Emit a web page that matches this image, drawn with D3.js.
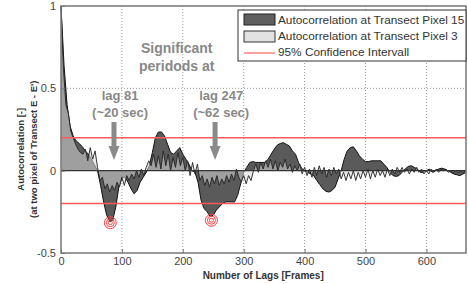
<!DOCTYPE html>
<html>
<head>
<meta charset="utf-8">
<script src="https://cdn.jsdelivr.net/npm/d3@7"></script>
<style>
  body { margin: 0; background: #fff; }
  text { font-family: "Liberation Sans", Arial, sans-serif; }
</style>
</head>
<body>
<svg id="chart" width="468" height="284"></svg>
<script>
// autocorrelation, transect pixel 15 (lags 0..665, step 5)
var pix15Vals = [1.00, 0.64, 0.40, 0.27, 0.21, 0.18, 0.165, 0.145, 0.12, 0.10, 0.07, 0.035, 0.00,
  -0.09, -0.19, -0.27, -0.31, -0.30, -0.22, -0.10, -0.04, -0.04, -0.07, -0.11, -0.14, -0.12, -0.07, -0.04, -0.01,
  0.03, 0.11, 0.20, 0.235, 0.235, 0.21, 0.16, 0.11, 0.10, 0.12, 0.14, 0.10, 0.07, 0.04, 0.00,
  -0.01, -0.07, -0.18, -0.23, -0.25, -0.28, -0.27, -0.24, -0.22, -0.20, -0.19, -0.19, -0.19, -0.19, -0.15, -0.08, -0.01,
  0.02, 0.05, 0.055, 0.05, 0.05, 0.05, 0.05, 0.07, 0.10, 0.13, 0.155, 0.165, 0.17, 0.16, 0.15, 0.12, 0.10, 0.05, 0.015, 0.00,
  -0.01, -0.02, -0.03, -0.06, -0.085, -0.11, -0.125, -0.13, -0.12, -0.10, -0.05, 0.00,
  0.07, 0.12, 0.14, 0.145, 0.12, 0.09, 0.07, 0.055, 0.055, 0.06, 0.06, 0.06, 0.06, 0.04, 0.02,
  -0.01, -0.03, -0.035, -0.03, -0.01, 0.01, 0.025, 0.03, 0.02, 0.01, -0.01, -0.01, 0.00, 0.01, -0.01, 0.00,
  0.01, 0.015, 0.01, 0.0, -0.01, -0.02, -0.025, -0.03, -0.02, -0.01];

// autocorrelation, transect pixel 3 (lags 0..664, step 4)
var pix3Vals = [1.00, 0.62, 0.40, 0.35, 0.24, 0.20, 0.16, 0.13, 0.11, 0.10, 0.13, 0.06, 0.14, 0.07, 0.12, 0.02,
  -0.06, -0.04, -0.11, -0.08, -0.13, -0.09, -0.12, -0.07, -0.10, -0.04, -0.09, -0.03, -0.06, -0.02, -0.05, 0.00,
  -0.04, 0.01, -0.03, 0.02, 0.06, 0.03, 0.10, 0.02, 0.09, 0.01, 0.12, 0.03, 0.10, 0.00, 0.08, 0.02,
  0.11, 0.03, 0.08, 0.00, 0.06, -0.03, 0.05, -0.02, 0.04, -0.06, -0.03, -0.09, -0.05, -0.10, -0.04, -0.08,
  -0.03, -0.09, -0.05, -0.08, -0.03, -0.07, -0.02, -0.06, 0.01, -0.04, -0.07, -0.03, -0.08, -0.03, -0.06, 0.00,
  0.04, -0.01, 0.05, 0.01, 0.06, 0.02, 0.07, 0.01, 0.06, 0.00, 0.05, 0.02, 0.07, 0.01, 0.04, -0.01,
  0.03, 0.00, 0.04, -0.02, 0.02, -0.03, 0.01, -0.04, 0.02, -0.03, 0.03, -0.02, 0.02, -0.04, 0.01, -0.03,
  0.02, -0.02, 0.01, -0.05, -0.01, -0.06, -0.01, -0.05, 0.00, -0.06, -0.01, -0.05, 0.00, -0.04, 0.01, -0.05,
  0.00, -0.04, 0.01, -0.03, 0.00, -0.04, 0.01, -0.03, 0.01, -0.02, 0.02, -0.01, 0.02, -0.01, 0.01, -0.02,
  0.01, -0.01, 0.02, -0.01, 0.01, -0.02, 0.00, -0.02, 0.01, -0.01, 0.01, -0.01, 0.01, 0.00, 0.01, -0.01,
  0.00, -0.01, 0.00, -0.01, 0.00, -0.01, 0.00];

var xTicks = [0, 100, 200, 300, 400, 500, 600];
var yTicks = [-0.5, 0, 0.5, 1];
var confLevels = [0.2, -0.2];
var peakLags = [81, 247];
var peakVals = [-0.31, -0.295];
var peakLabels = [["lag 81", "(~20 sec)"], ["lag 247", "(~62 sec)"]];
var legendLabels = ["Autocorrelation at Transect Pixel 15", "Autocorrelation at Transect Pixel 3", "95% Confidence Intervall"];

var svg = d3.select("#chart");
var pl = 61, pt = 6, pr = 466, pb = 253;

var x = d3.scaleLinear().domain([0, 665]).range([pl, pr]);
var y = d3.scaleLinear().domain([-0.5, 1]).range([pb, pt]);

var pix15 = pix15Vals.map(function (v, i) { return [i * 5, v]; });
var pix3 = pix3Vals.map(function (v, i) { return [i * 4, v]; });

// grid
svg.append("g").selectAll("line").data(xTicks.slice(1)).enter().append("line")
  .attr("x1", d => x(d)).attr("x2", d => x(d)).attr("y1", pt).attr("y2", pb)
  .attr("stroke", "#999").attr("stroke-dasharray", "1,2");
svg.append("g").selectAll("line").data([0.5]).enter().append("line")
  .attr("x1", pl).attr("x2", pr).attr("y1", d => y(d)).attr("y2", d => y(d))
  .attr("stroke", "#999").attr("stroke-dasharray", "1,2");

var area = d3.area().x(d => x(d[0])).y0(y(0)).y1(d => y(d[1]));
var line = d3.line().x(d => x(d[0])).y(d => y(d[1]));

var plot = svg.append("g");
plot.append("path").datum(pix15).attr("d", area).attr("fill", "#5a5a5a");
plot.append("path").datum(pix15).attr("d", line).attr("fill", "none").attr("stroke", "#111").attr("stroke-width", 1);
plot.append("path").datum(pix3).attr("d", area).attr("fill", "#d8d8d8").attr("fill-opacity", 0.55);
plot.append("path").datum(pix3).attr("d", line).attr("fill", "none").attr("stroke", "#222").attr("stroke-width", 0.9);

// zero line
svg.append("line").attr("x1", pl).attr("x2", pr).attr("y1", y(0)).attr("y2", y(0))
  .attr("stroke", "#333").attr("stroke-width", 1.2);

// confidence interval
svg.append("g").selectAll("line").data(confLevels).enter().append("line")
  .attr("x1", pl).attr("x2", pr).attr("y1", d => y(d)).attr("y2", d => y(d))
  .attr("stroke", "#ff5a5a").attr("stroke-width", 1.5);

// circles at significant lags
peakLags.forEach(function (l, i) {
  [6, 4, 2].forEach(function (r) {
    svg.append("circle").attr("cx", x(l)).attr("cy", y(peakVals[i]) + 1).attr("r", r)
      .attr("fill", "none").attr("stroke", "#ff4040").attr("stroke-width", 1);
  });
});

// frame + axes
svg.append("rect").attr("x", pl).attr("y", pt).attr("width", pr - pl).attr("height", pb - pt)
  .attr("fill", "none").attr("stroke", "#777").attr("stroke-width", 1.5);

var xAxis = svg.append("g").attr("transform", "translate(0," + pb + ")")
  .call(d3.axisBottom(x).tickValues(xTicks).tickSize(-4).tickPadding(4).tickFormat(d3.format("d")));
var yAxis = svg.append("g").attr("transform", "translate(" + pl + ",0)")
  .call(d3.axisLeft(y).tickValues(yTicks).tickSize(-4).tickPadding(5).tickFormat(d => d));
[xAxis, yAxis].forEach(function (a) {
  a.select(".domain").remove();
  a.selectAll(".tick line").attr("stroke", "#777");
  a.selectAll("text").attr("fill", "#444").attr("font-size", 11)
    .attr("font-family", "Liberation Sans, Arial, sans-serif");
});

// axis titles
svg.append("text").attr("x", x(332)).attr("y", 279).attr("text-anchor", "middle")
  .attr("font-size", 10).attr("font-weight", "bold").attr("fill", "#333").text("Number of Lags [Frames]");
var yt = svg.append("text").attr("transform", "translate(24," + y(0.13) + ") rotate(-90)")
  .attr("text-anchor", "middle").attr("font-size", 9.5).attr("font-weight", "bold").attr("fill", "#333");
yt.append("tspan").attr("x", 0).attr("dy", 0).text("Autocorrelation [-]");
yt.append("tspan").attr("x", 0).attr("dy", 13).text("(at two pixel of Transect E - E')");

// annotations
var ann = svg.append("g").attr("fill", "#888").attr("font-weight", "bold").attr("text-anchor", "middle");
ann.append("text").attr("x", x(190)).attr("y", 53).attr("font-size", 14).text("Significant");
ann.append("text").attr("x", x(190)).attr("y", 71).attr("font-size", 14).text("peridods at");
peakLags.forEach(function (l, i) {
  ann.append("text").attr("x", x(l + 16)).attr("y", 100).attr("font-size", 13).text(peakLabels[i][0]);
  ann.append("text").attr("x", x(l + 16)).attr("y", 117).attr("font-size", 13).text(peakLabels[i][1]);
  var ax = x(l + 6);
  svg.append("path")
    .attr("d", "M" + (ax - 2.5) + ",122 L" + (ax + 2.5) + ",122 L" + (ax + 2.5) + ",146 L" + (ax + 5.5) + ",146 L" + ax + ",160 L" + (ax - 5.5) + ",146 L" + (ax - 2.5) + ",146 Z")
    .attr("fill", "#8a8a8a");
});

// legend
var lg = svg.append("g");
lg.append("rect").attr("x", 238).attr("y", 10).attr("width", 228).attr("height", 51)
  .attr("fill", "#fff").attr("stroke", "#333").attr("stroke-width", 1);
lg.append("rect").attr("x", 244).attr("y", 14).attr("width", 31).attr("height", 11)
  .attr("fill", "#5f5f5f").attr("stroke", "#222");
lg.append("rect").attr("x", 244).attr("y", 31).attr("width", 31).attr("height", 11)
  .attr("fill", "#e2e2e2").attr("stroke", "#333");
lg.append("line").attr("x1", 244).attr("x2", 275).attr("y1", 53).attr("y2", 53)
  .attr("stroke", "#ff6060").attr("stroke-width", 1.2);
legendLabels.forEach(function (t, i) {
  lg.append("text").attr("x", 278).attr("y", 24 + i * 16).attr("font-size", 11.8).attr("fill", "#333").text(t);
});
</script>
</body>
</html>
